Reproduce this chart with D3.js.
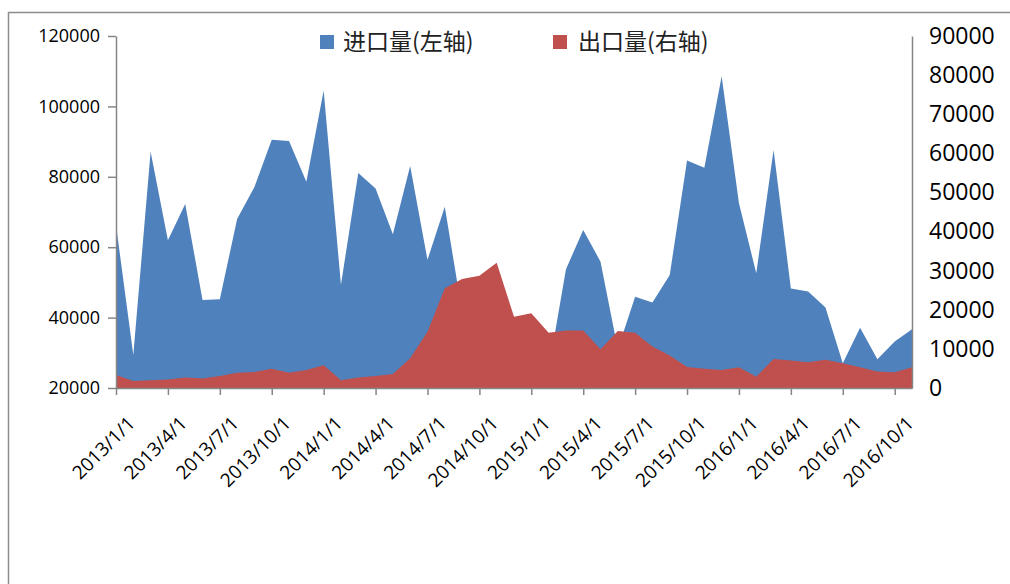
<!DOCTYPE html>
<html>
<head>
<meta charset="utf-8">
<script src="https://cdn.jsdelivr.net/npm/d3@7"></script>
<style>
  html, body { margin: 0; padding: 0; background: #fff; }
  svg { display: block; }
</style>
</head>
<body>
<svg id="chart" width="1010" height="584"></svg>
<script>
// Monthly categories, 2013/1 – 2016/11
const months = [
  "2013/1/1","2013/2/1","2013/3/1","2013/4/1","2013/5/1","2013/6/1","2013/7/1","2013/8/1","2013/9/1","2013/10/1","2013/11/1","2013/12/1",
  "2014/1/1","2014/2/1","2014/3/1","2014/4/1","2014/5/1","2014/6/1","2014/7/1","2014/8/1","2014/9/1","2014/10/1","2014/11/1","2014/12/1",
  "2015/1/1","2015/2/1","2015/3/1","2015/4/1","2015/5/1","2015/6/1","2015/7/1","2015/8/1","2015/9/1","2015/10/1","2015/11/1","2015/12/1",
  "2016/1/1","2016/2/1","2016/3/1","2016/4/1","2016/5/1","2016/6/1","2016/7/1","2016/8/1","2016/9/1","2016/10/1","2016/11/1"
];

// 进口量 (left axis)
const imports = [
  66300, 29400, 87100, 62000, 72300, 45000, 45200, 68000, 77100, 90500, 90200, 78600,
  104500, 49300, 81100, 76700, 63700, 83100, 56400, 71500, 41600, 38000, 36000, 33000,
  30000, 25100, 53700, 64900, 55900, 31000, 45900, 44300, 52100, 84600, 82600, 108600,
  72500, 52600, 87600, 48300, 47400, 42900, 27000, 37100, 28200, 33200, 36700
];

// 出口量 (right axis)
const exports_ = [
  3300, 1800, 2000, 2200, 2700, 2400, 3100, 3900, 4100, 4900, 3900, 4600,
  5800, 2000, 2700, 3100, 3600, 7600, 14400, 25500, 27900, 28700, 32000, 18200,
  19100, 14100, 14700, 14700, 9900, 14600, 14100, 10600, 8300, 5400, 4900, 4600,
  5300, 2900, 7400, 7000, 6600, 7200, 6300, 5300, 4200, 4000, 5300
];

const leftTicks = [20000, 40000, 60000, 80000, 100000, 120000];
const rightTicks = [0, 10000, 20000, 30000, 40000, 50000, 60000, 70000, 80000, 90000];
const xTickLabels = months.filter((d, i) => i % 3 === 0);

const seriesNames = ["进口量(左轴)", "出口量(右轴)"];
const colors = ["#4F81BD", "#C0504D"];

const svg = d3.select("#chart");
const plot = { left: 116, right: 912, top: 36, bottom: 388 };
const axisColor = "#868686";
const numFont = "'Open Sans', 'DejaVu Sans', sans-serif";

// outer chart frame
svg.append("rect")
  .attr("x", 8.5).attr("y", 12.5)
  .attr("width", 1020).attr("height", 600)
  .attr("fill", "none").attr("stroke", "#8c8c8c").attr("stroke-width", 1.5);

const x = d3.scalePoint().domain(months).range([plot.left, plot.right]).padding(0);
const yL = d3.scaleLinear().domain([20000, 120000]).range([plot.bottom, plot.top]);
const yR = d3.scaleLinear().domain([0, 90000]).range([plot.bottom, plot.top]);

// import area (left axis)
const areaL = d3.area()
  .x((d, i) => x(months[i]))
  .y0(plot.bottom)
  .y1(d => yL(d));
svg.append("path").datum(imports)
  .attr("d", areaL)
  .attr("fill", colors[0]);

// export area (right axis), drawn on top
const areaR = d3.area()
  .x((d, i) => x(months[i]))
  .y0(yR(0))
  .y1(d => yR(d));
svg.append("path").datum(exports_)
  .attr("d", areaR)
  .attr("fill", colors[1]);

// left axis
const gL = svg.append("g").attr("transform", `translate(${plot.left},0)`)
  .call(d3.axisLeft(yL).tickValues(leftTicks).tickFormat(d3.format("d")).tickSizeInner(8).tickSizeOuter(0).tickPadding(8));
gL.select(".domain").attr("stroke", axisColor).attr("stroke-width", 1.5);
gL.selectAll(".tick line").attr("stroke", axisColor).attr("stroke-width", 1.5);
gL.selectAll(".tick text").attr("font-family", numFont).attr("font-size", 18).attr("fill", "#000");

// right axis
const gR = svg.append("g").attr("transform", `translate(${plot.right},0)`)
  .call(d3.axisRight(yR).tickValues(rightTicks).tickFormat(d3.format("d")).tickSizeInner(0).tickSizeOuter(0).tickPadding(17));
gR.select(".domain").attr("stroke", axisColor).attr("stroke-width", 1.5);
gR.selectAll(".tick text").attr("font-family", numFont).attr("font-size", 23).attr("fill", "#000");

// bottom axis
const gX = svg.append("g").attr("transform", `translate(0,${plot.bottom})`)
  .call(d3.axisBottom(x).tickValues(xTickLabels).tickSizeInner(7).tickSizeOuter(0).tickPadding(0));
gX.select(".domain").attr("stroke", axisColor).attr("stroke-width", 1.5);
gX.selectAll(".tick line").attr("stroke", axisColor).attr("stroke-width", 1.5);
gX.selectAll(".tick text")
  .attr("font-family", numFont).attr("font-size", 19).attr("fill", "#000")
  .attr("text-anchor", "end")
  .attr("dy", "0.35em")
  .attr("transform", "translate(10,27) rotate(-45)");

// legend
const legendItems = [
  { name: seriesNames[0], color: colors[0], sx: 320, tx: 343 },
  { name: seriesNames[1], color: colors[1], sx: 553, tx: 578 }
];
const lg = svg.append("g");
legendItems.forEach(it => {
  lg.append("rect").attr("x", it.sx).attr("y", 35).attr("width", 14).attr("height", 14).attr("fill", it.color);
  lg.append("text").attr("x", it.tx).attr("y", 42).attr("dy", "0.36em")
    .attr("font-family", "'Noto Sans CJK SC', sans-serif").attr("font-size", 23).attr("fill", "#222")
    .text(it.name);
});
</script>
</body>
</html>
